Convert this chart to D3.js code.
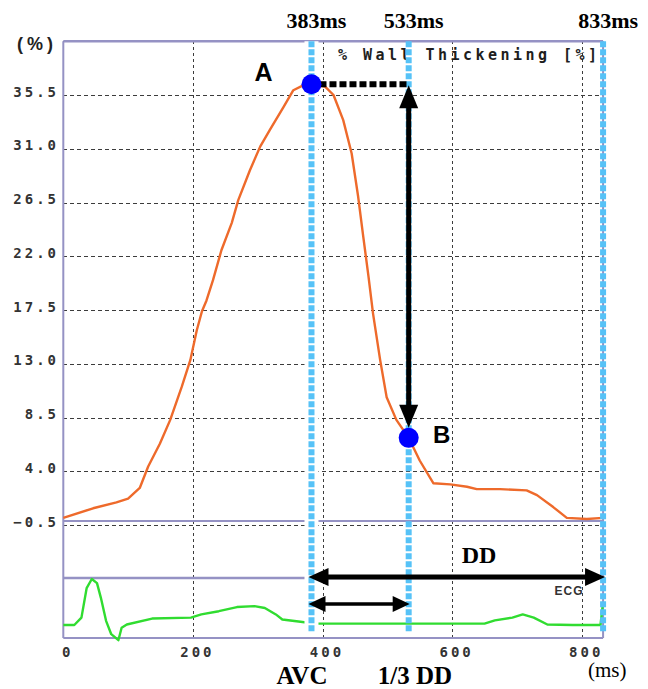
<!DOCTYPE html>
<html>
<head>
<meta charset="utf-8">
<script src="https://cdn.jsdelivr.net/npm/d3@7"></script>
<style>
  html, body { margin: 0; padding: 0; background: #fff; }
  svg { display: block; }
</style>
</head>
<body>
<svg id="chart" width="648" height="689"></svg>
<script>
// Wall thickening over one cardiac cycle (time in ms, thickening in %)
const wtTime  = [0, 46, 82, 100, 118, 131, 149, 165, 183, 196, 206, 214, 221, 231, 244, 260, 270, 288, 304, 319, 340, 355, 370, 383, 404, 417, 432, 445, 455, 463, 471, 478, 489, 499, 514, 533, 550, 571, 597, 623, 638, 674, 715, 731, 756, 777, 808, 833];
const wtValue = [0.1, 0.9, 1.4, 1.7, 2.6, 4.4, 6.3, 8.3, 11.1, 13.3, 15.8, 17.4, 18.3, 20.0, 22.5, 24.8, 26.7, 29.2, 31.2, 32.6, 34.5, 35.9, 36.3, 36.4, 36.2, 35.5, 33.4, 30.6, 27.0, 23.6, 20.3, 17.2, 13.3, 10.2, 8.3, 6.8, 4.9, 3.0, 2.9, 2.7, 2.5, 2.5, 2.4, 2.0, 1.0, 0.1, 0.0, 0.1];

// ECG trace (time in ms, relative amplitude)
const ecgTime  = [0, 17, 28, 36, 44, 52, 58, 66, 74, 85, 90, 98, 137, 197, 213, 240, 268, 295, 311, 328, 338, 366, 388, 650, 666, 693, 709, 726, 747, 786, 829, 833];
const ecgValue = [0, 0, 0.16, 0.8, 1.0, 0.91, 0.59, 0.09, -0.2, -0.33, -0.06, 0.01, 0.14, 0.16, 0.23, 0.3, 0.39, 0.41, 0.37, 0.23, 0.12, 0.07, 0.03, 0.03, 0.1, 0.16, 0.23, 0.16, 0.01, 0, 0, 0.5];

// Axis ticks
const yTicks = [-0.5, 4.0, 8.5, 13.0, 17.5, 22.0, 26.5, 31.0, 35.5];
const xTicks = [0, 200, 400, 600, 800];

// Event markers: aortic valve closure, 1/3 of diastole, end of cycle
const markerTimes  = [383, 533, 833];
const markerLabels = ["383ms", "533ms", "833ms"];
const timeA = 383, timeB = 533, timeEnd = 833;

const svg = d3.select("#chart");

const x = d3.scaleLinear().domain([0, 800]).range([63.3, 581.7]);
const y = d3.scaleLinear().domain([-0.5, 35.5]).range([525, 95]);
const ecgY = d3.scaleLinear().domain([0, 1]).range([625, 579]);

const plotLeft = x(0), plotRight = x(timeEnd), plotTop = y(40);
const plotBottom = 638, ecgTop = 578;

const frameColor = "#9592c4";
const gridColor = "#3c3c3c";
const blue = "#56c2f7";
const monoFont = "'DejaVu Sans Mono', monospace";
const serif = "'Liberation Serif', 'Times New Roman', serif";
const sans = "'Liberation Sans', Arial, sans-serif";

const valueAt = t => wtValue[wtTime.indexOf(t)];
const valA = valueAt(timeA), valB = valueAt(timeB);

// Horizontal grid + y tick labels
const gy = svg.append("g")
  .attr("transform", `translate(${plotLeft},0)`)
  .call(d3.axisLeft(y).tickValues(yTicks).tickFormat(d3.format(".1f"))
    .tickSize(-(plotRight - plotLeft)).tickPadding(4.3));
gy.select(".domain").remove();
gy.selectAll(".tick line")
  .attr("stroke", gridColor).attr("stroke-width", 1).attr("stroke-dasharray", "4,3")
  .attr("shape-rendering", "crispEdges");
gy.selectAll(".tick text")
  .attr("dy", "0.08em")
  .attr("fill", "#333")
  .style("font-family", monoFont).style("font-weight", "bold")
  .style("font-size", "14px").style("letter-spacing", "3px");

// Vertical grid + x tick labels
const gx = svg.append("g")
  .attr("transform", `translate(0,${plotBottom})`)
  .call(d3.axisBottom(x).tickValues(xTicks).tickFormat(d3.format("d"))
    .tickSize(-(plotBottom - plotTop)).tickPadding(9));
gx.select(".domain").remove();
gx.selectAll(".tick line")
  .attr("stroke", gridColor).attr("stroke-width", 1).attr("stroke-dasharray", "3,3")
  .attr("shape-rendering", "crispEdges");
gx.selectAll(".tick text")
  .attr("dx", 4)
  .attr("fill", "#333")
  .style("font-family", monoFont).style("font-weight", "bold")
  .style("font-size", "14px").style("letter-spacing", "3px");

// Frame lines
const frame = svg.append("g").attr("stroke", frameColor).attr("stroke-width", 2).attr("fill", "none");
frame.append("line").attr("x1", plotLeft).attr("x2", plotRight).attr("y1", plotTop).attr("y2", plotTop).attr("stroke-width", 2.5);
frame.append("line").attr("x1", plotLeft).attr("x2", plotLeft).attr("y1", plotTop).attr("y2", plotBottom);
frame.append("line").attr("x1", plotRight).attr("x2", plotRight).attr("y1", plotTop).attr("y2", plotBottom);
frame.append("line").attr("x1", plotLeft).attr("x2", plotRight).attr("y1", y(-0.5) - 4).attr("y2", y(-0.5) - 4);
frame.append("line").attr("x1", plotLeft).attr("x2", plotRight).attr("y1", ecgTop).attr("y2", ecgTop).attr("stroke-width", 2.5);
frame.append("line").attr("x1", plotLeft).attr("x2", plotRight).attr("y1", plotBottom).attr("y2", plotBottom);

// Wall thickening curve
svg.append("path")
  .datum(d3.zip(wtTime, wtValue))
  .attr("fill", "none").attr("stroke", "#ee6a2b").attr("stroke-width", 2.4)
  .attr("stroke-linejoin", "round")
  .attr("d", d3.line().x(d => x(d[0])).y(d => y(d[1])));

// ECG trace
svg.append("path")
  .datum(d3.zip(ecgTime, ecgValue))
  .attr("fill", "none").attr("stroke", "#30dc30").attr("stroke-width", 2.4)
  .attr("stroke-linejoin", "round")
  .attr("d", d3.line().x(d => x(d[0])).y(d => ecgY(d[1])));

// Clear band behind the aortic valve closure marker
svg.append("line")
  .attr("x1", x(timeA)).attr("x2", x(timeA)).attr("y1", plotTop).attr("y2", 634)
  .attr("stroke", "#fff").attr("stroke-width", 14);

// Legend caption
svg.append("text")
  .attr("x", 338).attr("y", 60)
  .attr("textLength", 259).attr("lengthAdjust", "spacing")
  .attr("fill", "#1e1e1e")
  .style("font-family", monoFont).style("font-weight", "bold").style("font-size", "15px")
  .text("% Wall Thickening [%]");

// Blue event marker lines
svg.append("g").selectAll("line").data(markerTimes).join("line")
  .attr("x1", d => x(d)).attr("x2", d => x(d))
  .attr("y1", plotTop).attr("y2", 632)
  .attr("stroke", blue).attr("stroke-width", 6).attr("stroke-dasharray", "6,2");

// Marker time labels
svg.append("g").selectAll("text").data(markerTimes).join("text")
  .attr("x", d => x(d) + 5).attr("y", 28)
  .attr("text-anchor", "middle")
  .style("font-family", serif).style("font-weight", "bold").style("font-size", "22px")
  .text((d, i) => markerLabels[i]);

// Arrow helpers
function hArrow(x1, x2, yy, shaft, headLen, headH) {
  const g = svg.append("g").attr("fill", "#000");
  g.append("line").attr("x1", x1 + headLen - 1).attr("x2", x2 - headLen + 1)
    .attr("y1", yy).attr("y2", yy).attr("stroke", "#000").attr("stroke-width", shaft);
  g.append("path").attr("d", `M${x1},${yy}L${x1 + headLen},${yy - headH / 2}L${x1 + headLen},${yy + headH / 2}Z`);
  g.append("path").attr("d", `M${x2},${yy}L${x2 - headLen},${yy - headH / 2}L${x2 - headLen},${yy + headH / 2}Z`);
}
function vArrow(xx, y1, y2, shaft, headLen, headW) {
  const g = svg.append("g").attr("fill", "#000");
  g.append("line").attr("x1", xx).attr("x2", xx)
    .attr("y1", y1 + headLen - 1).attr("y2", y2 - headLen + 1)
    .attr("stroke", "#000").attr("stroke-width", shaft);
  g.append("path").attr("d", `M${xx},${y1}L${xx - headW / 2},${y1 + headLen}L${xx + headW / 2},${y1 + headLen}Z`);
  g.append("path").attr("d", `M${xx},${y2}L${xx - headW / 2},${y2 - headLen}L${xx + headW / 2},${y2 - headLen}Z`);
}

// Dotted line from peak A across to the 1/3 DD marker
svg.append("line")
  .attr("x1", x(timeA) + 8).attr("x2", x(timeB) - 2)
  .attr("y1", y(valA)).attr("y2", y(valA))
  .attr("stroke", "#000").attr("stroke-width", 6).attr("stroke-dasharray", "7,3");

// Drop from A to B
vArrow(x(timeB), y(valA) + 1, y(valB) - 10, 5, 23, 19);

// Diastolic duration and its first third
hArrow(x(timeA) - 3, x(timeEnd) + 2, 577, 5, 20, 18);
hArrow(x(timeA) - 3, x(timeB) + 1, 604, 3.5, 17, 16);

// Points A and B
svg.append("circle").attr("cx", x(timeA)).attr("cy", y(valA)).attr("r", 10).attr("fill", "#0000ff");
svg.append("circle").attr("cx", x(timeB)).attr("cy", y(valB)).attr("r", 10).attr("fill", "#0000ff");

// Text annotations
const ann = (tx, ty, str, font, size, weight, anchor) =>
  svg.append("text").attr("x", tx).attr("y", ty).attr("text-anchor", anchor || "middle")
    .attr("fill", "#000")
    .style("font-family", font).style("font-size", size + "px").style("font-weight", weight)
    .text(str);

ann(x(timeA) - 48, y(valA) - 3, "A", sans, 25, "bold");
ann(x(timeB) + 33, y(valB) + 5, "B", sans, 24, "bold");
ann(479, 563, "DD", serif, 24, "bold");
ann(569, 595, "ECG", sans, 12, "bold").attr("fill", "#333").style("letter-spacing", "1px");
ann(302, 684, "AVC", serif, 25, "bold");
ann(415, 684, "1/3 DD", serif, 25, "bold");
ann(588, 677, "(ms)", serif, 21, "normal", "start");
ann(35, 50, "(%)", sans, 18, "bold").attr("textLength", 36).attr("fill", "#222");
</script>
</body>
</html>
